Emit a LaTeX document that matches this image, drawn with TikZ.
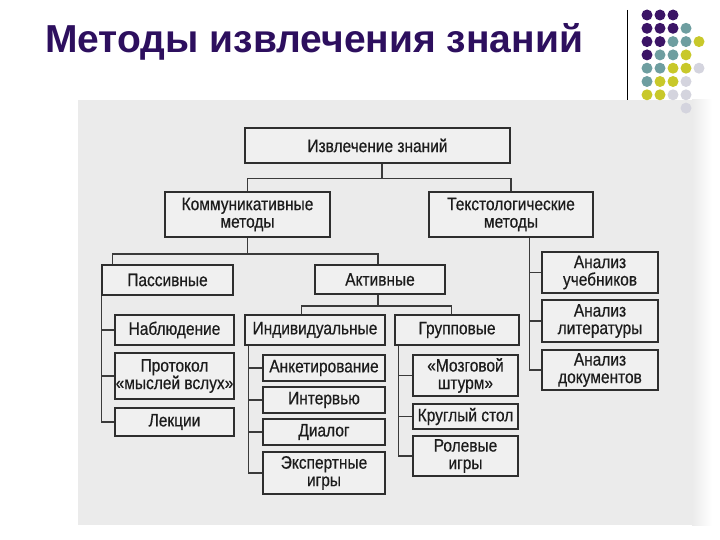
\documentclass[tikz,border=0pt]{standalone}
\usepackage{fontspec}
\setmainfont{Liberation Sans}
\newfontfamily\boxfont[FakeStretch=0.86,FakeBold=0.5]{Liberation Sans}
\newfontfamily\titlefont{Liberation Sans}
\definecolor{titlecol}{HTML}{2D0F5E}
\definecolor{dp}{HTML}{3B1466}
\definecolor{dt}{HTML}{6E9EA0}
\definecolor{dy}{HTML}{C8C82A}
\definecolor{dl}{HTML}{D4D4DE}
\definecolor{scanbg}{HTML}{EBEBEB}
\definecolor{boxfill}{HTML}{F0F0F0}
\definecolor{boxline}{HTML}{2E2E2E}
\definecolor{connline}{HTML}{3A3A3A}
\definecolor{boxtext}{HTML}{1C1C1C}
\begin{document}
\begin{tikzpicture}[x=1pt,y=-1pt,
  box/.style={draw=boxline, line width=1.6pt, fill=boxfill, inner sep=0pt, align=center,
    font=\boxfont\fontsize{18}{17.5}\selectfont, text=boxtext},
  conn/.style={draw=connline, line width=1.4pt},
  dot/.style={radius=5.5}]
\useasboundingbox (0,0) rectangle (720,540);
% scanned background
\fill[scanbg] (78,100) rectangle (692,525);
\shade[left color=scanbg, right color=white] (692,100) rectangle (712,525);
% title
\node[anchor=base west, inner sep=0pt, text=titlecol, font=\titlefont\bfseries\fontsize{39}{44}\selectfont] (title) at (45,53) {Методы извлечения знаний};
% decoration: line and dots
\draw[black, line width=1pt] (627,10) -- (627,100);
\foreach \c/\r/\col in {1/1/dp,2/1/dp,3/1/dp,
  1/2/dp,2/2/dp,3/2/dp,4/2/dt,
  1/3/dp,2/3/dp,3/3/dt,4/3/dt,5/3/dy,
  1/4/dp,2/4/dt,3/4/dt,4/4/dy,
  1/5/dt,2/5/dt,3/5/dy,4/5/dy,5/5/dl,
  1/6/dt,2/6/dy,3/6/dy,4/6/dl,
  1/7/dy,2/7/dy,3/7/dl,4/7/dl,
  4/8/dl}
  \fill[\col] ({647+13*(\c-1)},{15+13.3*(\r-1)}) circle[dot];
% boxes
\node[box, minimum width=265, minimum height=35] (root) at (377.5,145.5) {Извлечение знаний};
\node[box, minimum width=165, minimum height=45] (komm) at (247.5,214.5) {Коммуникативные\\методы};
\node[box, minimum width=164, minimum height=45] (text) at (511,214.5) {Текстологические\\методы};
\node[box, minimum width=131, minimum height=30] (pass) at (167.5,280) {Пассивные};
\node[box, minimum width=130, minimum height=29] (act) at (380,279.5) {Активные};
\node[box, minimum width=116, minimum height=41] (ucheb) at (600,272.5) {Анализ\\учебников};
\node[box, minimum width=116, minimum height=42] (liter) at (600,321) {Анализ\\литературы};
\node[box, minimum width=116, minimum height=40] (docs) at (600,370) {Анализ\\документов};
\node[box, minimum width=119, minimum height=30] (nabl) at (174.5,330) {Наблюдение};
\node[box, minimum width=119, minimum height=46] (prot) at (174.5,376) {Протокол\\«мыслей вслух»};
\node[box, minimum width=119, minimum height=28] (lect) at (174.5,422) {Лекции};
\node[box, minimum width=140, minimum height=30] (indiv) at (315,330) {Индивидуальные};
\node[box, minimum width=124, minimum height=30] (group) at (457,330) {Групповые};
\node[box, minimum width=122, minimum height=26] (anket) at (324,368) {Анкетирование};
\node[box, minimum width=122, minimum height=26] (interv) at (324,400) {Интервью};
\node[box, minimum width=122, minimum height=26] (dial) at (324,432) {Диалог};
\node[box, minimum width=122, minimum height=42] (expert) at (324,473) {Экспертные\\игры};
\node[box, minimum width=105, minimum height=41] (brain) at (465.5,375.5) {«Мозговой\\штурм»};
\node[box, minimum width=105, minimum height=25] (kruglyi) at (465.5,416.5) {Круглый стол};
\node[box, minimum width=105, minimum height=40] (role) at (465.5,456) {Ролевые\\игры};
% connectors
\draw[conn] ([xshift=4.5pt]root.south) -- ++(0,15) coordinate (j1);
\draw[conn] (komm.north) |- (j1) -| (text.north);
\draw[conn] (komm.south) -- ++(0,16) coordinate (j2);
\draw[conn] ([xshift=11pt]pass.north west) |- (j2) -| ([xshift=-2pt]act.north);
\draw[conn] ([xshift=-2pt]act.south) -- ++(0,11) coordinate (j3);
\draw[conn] ([xshift=57pt]indiv.north west) |- (j3) -| ([xshift=57pt]group.north west);
% passive branch
\draw[conn] (pass.south west) |- (lect.west);
\draw[conn] (pass.south west |- nabl.west) -- (nabl.west);
\draw[conn] (pass.south west |- prot.west) -- (prot.west);
% individual branch
\draw[conn] ([xshift=4pt]indiv.south west) coordinate (iv) |- (expert.west);
\draw[conn] (iv |- anket.west) -- (anket.west);
\draw[conn] (iv |- interv.west) -- (interv.west);
\draw[conn] (iv |- dial.west) -- (dial.west);
% group branch
\draw[conn] ([xshift=4pt]group.south west) coordinate (gv) |- (role.west);
\draw[conn] (gv |- brain.west) -- (brain.west);
\draw[conn] (gv |- kruglyi.west) -- (kruglyi.west);
% text branch
\draw[conn] ([xshift=101pt]text.south west) coordinate (tv) |- (docs.west);
\draw[conn] (tv |- ucheb.west) -- (ucheb.west);
\draw[conn] (tv |- liter.west) -- (liter.west);
\end{tikzpicture}
\end{document}
